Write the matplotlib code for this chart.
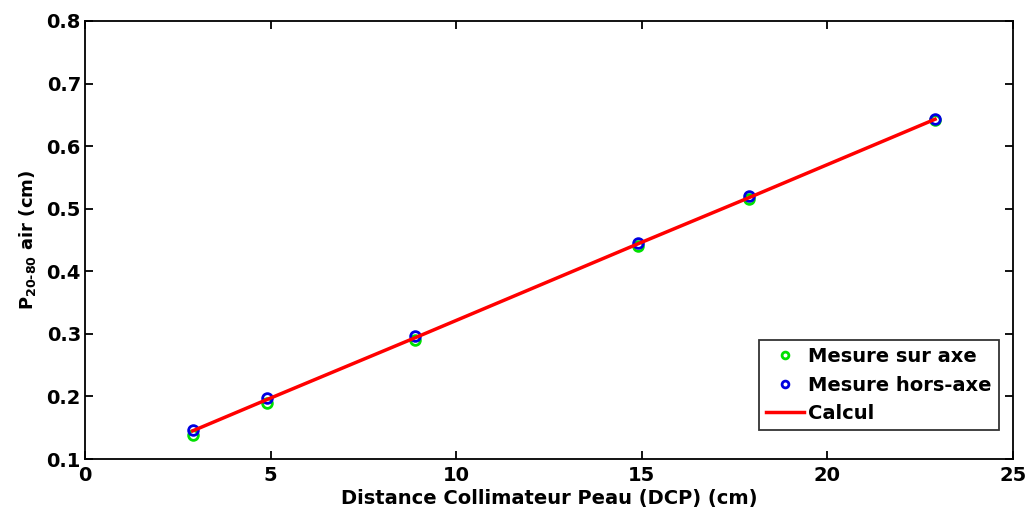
import numpy as np
from matplotlib import use
use('Agg')
import matplotlib.pyplot as plt

plt.rcParams['font.family'] = 'DejaVu Sans'
plt.rcParams['font.weight'] = 'bold'
plt.rcParams['mathtext.fontset'] = 'custom'
plt.rcParams['mathtext.rm'] = 'DejaVu Sans:bold'
plt.rcParams['mathtext.bf'] = 'DejaVu Sans:bold'

dcp = [2.9, 4.9, 8.9, 14.9, 17.9, 22.9]
sur_axe = [0.139, 0.189, 0.290, 0.440, 0.515, 0.641]
hors_axe = [0.147, 0.197, 0.297, 0.446, 0.520, 0.644]
calcul = [0.145, 0.195, 0.294, 0.444, 0.518, 0.643]

fig = plt.figure(figsize=(10.25, 5.12), dpi=100)
ax = fig.add_axes([0.083, 0.1035, 0.9053, 0.8555])

ax.plot(dcp, sur_axe, 'o', color='#00e000', mfc='none', mew=2, ms=7, label='Mesure sur axe')
ax.plot(dcp, hors_axe, 'o', color='#0000e0', mfc='none', mew=2, ms=7, label='Mesure hors-axe')
ax.plot(dcp, calcul, '-', color='#ff0000', lw=2.5, label='Calcul')

ax.set_xlim(0, 25)
ax.set_ylim(0.1, 0.8)
ax.set_xticks([0, 5, 10, 15, 20, 25])
ax.set_yticks(np.arange(0.1, 0.81, 0.1))
ax.set_yticklabels(['0.1', '0.2', '0.3', '0.4', '0.5', '0.6', '0.7', '0.8'])
ax.tick_params(direction='in', length=6, width=1.3, top=True, right=True, labelsize=14)
ax.tick_params(axis='x', pad=5)
ax.tick_params(axis='y', pad=3)
for s in ax.spines.values():
    s.set_linewidth(1.3)

ax.set_xlabel('Distance Collimateur Peau (DCP) (cm)', fontsize=14, fontweight='bold', labelpad=3)
ax.set_ylabel(r'P$_{\mathrm{20\text{-}80}}$ air (cm)', fontsize=13, fontweight='bold', labelpad=6)

leg = ax.legend(loc='lower right', fontsize=14, frameon=True, fancybox=False, edgecolor='black',
                borderaxespad=0, handlelength=2.0, handletextpad=0.2, borderpad=0.35,
                labelspacing=0.5, markerscale=0.7, bbox_to_anchor=(0.9845, 0.066))
leg.get_frame().set_linewidth(1.3)

plt.savefig('out.png', dpi=100)
